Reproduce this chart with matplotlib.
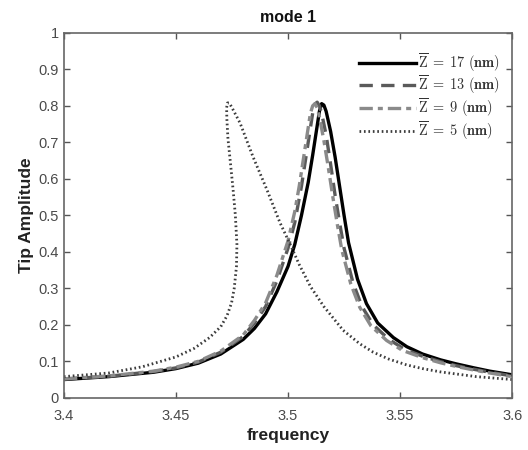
import matplotlib
matplotlib.use('Agg')
import matplotlib.pyplot as plt

plt.rcParams['font.family'] = ['Liberation Sans', 'DejaVu Sans']
plt.rcParams['mathtext.fontset'] = 'cm'

# Z = 17 nm (solid)
f17 = [3.400, 3.420, 3.440, 3.450, 3.460, 3.470, 3.480, 3.485, 3.490, 3.495,
       3.500, 3.503, 3.506, 3.509, 3.511, 3.513, 3.514, 3.515, 3.516, 3.517,
       3.519, 3.521, 3.523, 3.525, 3.527, 3.531, 3.535, 3.540, 3.547, 3.553,
       3.560, 3.568, 3.575, 3.583, 3.590, 3.600]
a17 = [0.050, 0.058, 0.070, 0.080, 0.095, 0.120, 0.160, 0.190, 0.230, 0.290,
       0.360, 0.420, 0.500, 0.590, 0.665, 0.745, 0.785, 0.806, 0.802, 0.785,
       0.730, 0.660, 0.580, 0.500, 0.425, 0.325, 0.258, 0.205, 0.165, 0.140,
       0.120, 0.104, 0.093, 0.082, 0.073, 0.063]

# Z = 13 nm (dashed)
f13 = [3.400, 3.420, 3.440, 3.450, 3.460, 3.470, 3.480, 3.485, 3.490, 3.495,
       3.500, 3.503, 3.506, 3.508, 3.510, 3.511, 3.512, 3.513, 3.514, 3.515,
       3.517, 3.519, 3.521, 3.523, 3.525, 3.529, 3.533, 3.538, 3.545, 3.552,
       3.560, 3.568, 3.575, 3.583, 3.590, 3.600]
a13 = [0.051, 0.059, 0.072, 0.082, 0.098, 0.125, 0.168, 0.205, 0.250, 0.320,
       0.410, 0.480, 0.580, 0.660, 0.740, 0.780, 0.805, 0.810, 0.800, 0.780,
       0.720, 0.640, 0.555, 0.480, 0.410, 0.315, 0.250, 0.200, 0.160, 0.133,
       0.114, 0.099, 0.088, 0.078, 0.070, 0.060]

# Z = 9 nm (dash-dot)
f9 = [3.400, 3.420, 3.440, 3.450, 3.460, 3.470, 3.480, 3.485, 3.490, 3.495,
      3.500, 3.503, 3.505, 3.507, 3.509, 3.510, 3.511, 3.512, 3.513, 3.514,
      3.516, 3.518, 3.520, 3.522, 3.524, 3.528, 3.532, 3.537, 3.544, 3.551,
      3.560, 3.568, 3.575, 3.583, 3.590, 3.600]
a9 = [0.052, 0.060, 0.073, 0.084, 0.100, 0.128, 0.172, 0.212, 0.260, 0.335,
      0.430, 0.510, 0.580, 0.660, 0.740, 0.780, 0.800, 0.806, 0.795, 0.770,
      0.705, 0.630, 0.550, 0.475, 0.405, 0.312, 0.248, 0.197, 0.157, 0.130,
      0.110, 0.096, 0.086, 0.076, 0.068, 0.058]

# Z = 5 nm (dotted, bent resonance)
f5 = [3.400, 3.420, 3.435, 3.450, 3.458, 3.465, 3.470, 3.4728, 3.4748, 3.4760,
      3.4770, 3.4772, 3.4765, 3.4755, 3.4742, 3.4732, 3.4727, 3.4726, 3.4730,
      3.4738, 3.4750, 3.4786, 3.4844, 3.4906, 3.4964, 3.501, 3.505, 3.510,
      3.516, 3.5246, 3.532, 3.538, 3.545, 3.553, 3.560, 3.568, 3.584, 3.600]
a5 = [0.058, 0.068, 0.085, 0.112, 0.135, 0.165, 0.195, 0.225, 0.260, 0.300,
      0.360, 0.420, 0.500, 0.570, 0.650, 0.710, 0.765, 0.795, 0.808,
      0.808, 0.795, 0.753, 0.660, 0.570, 0.480, 0.420, 0.365, 0.305,
      0.250, 0.185, 0.148, 0.125, 0.106, 0.090, 0.080, 0.071, 0.058, 0.050]

labels = [r'$\overline{\mathrm{Z}}\;=\;\mathbf{17\ (nm)}$',
          r'$\overline{\mathrm{Z}}\;=\;\mathbf{13\ (nm)}$',
          r'$\overline{\mathrm{Z}}\;=\;\mathbf{9\ (nm)}$',
          r'$\overline{\mathrm{Z}}\;=\;\mathbf{5\ (nm)}$']

fig = plt.figure(figsize=(5.28, 4.5), dpi=100)
ax = fig.add_axes([0.121, 0.116, 0.849, 0.811])

ax.plot(f17, a17, color='black', lw=2.4, ls='-', label=labels[0])
ax.plot(f13, a13, color='#5a5a5a', lw=2.4, ls=(0, (4, 2.5)), label=labels[1])
ax.plot(f9, a9, color='#8a8a8a', lw=2.4, ls=(0, (4, 1.5, 1.5, 1.5)), label=labels[2])
ax.plot(f5, a5, color='#3c3c3c', lw=2.0, ls=(0, (0.6, 1.0)), label=labels[3])

ax.set_xlim(3.4, 3.6)
ax.set_ylim(0, 1)
ax.set_xticks([3.4, 3.45, 3.5, 3.55, 3.6])
ax.set_xticklabels(['3.4', '3.45', '3.5', '3.55', '3.6'])
ax.set_yticks([0, 0.1, 0.2, 0.3, 0.4, 0.5, 0.6, 0.7, 0.8, 0.9, 1])
ax.set_yticklabels(['0', '0.1', '0.2', '0.3', '0.4', '0.5', '0.6', '0.7', '0.8', '0.9', '1'])

ax.tick_params(direction='in', top=True, right=True, length=4, width=1,
               colors='#555555', labelsize=10.5, labelcolor='#4a4a4a')
ax.tick_params(axis='x', pad=8)
for s in ax.spines.values():
    s.set_color('#666666')
    s.set_linewidth(1.2)

ax.set_xlabel('frequency', fontsize=12.5, fontweight='bold', color='#222222', labelpad=4)
ax.set_ylabel('Tip Amplitude', fontsize=12.5, fontweight='bold', color='#222222', labelpad=3)
ax.set_title('mode 1', fontsize=11.5, fontweight='bold', color='#111111', pad=8)

leg = ax.legend(loc='upper right', frameon=False, fontsize=10.3, handlelength=4.0,
                handletextpad=0.1, labelspacing=0.0, borderaxespad=0.0,
                bbox_to_anchor=(0.985, 0.965))
for t in leg.get_texts():
    t.set_color('#333333')

fig.savefig('out.png', dpi=100)
